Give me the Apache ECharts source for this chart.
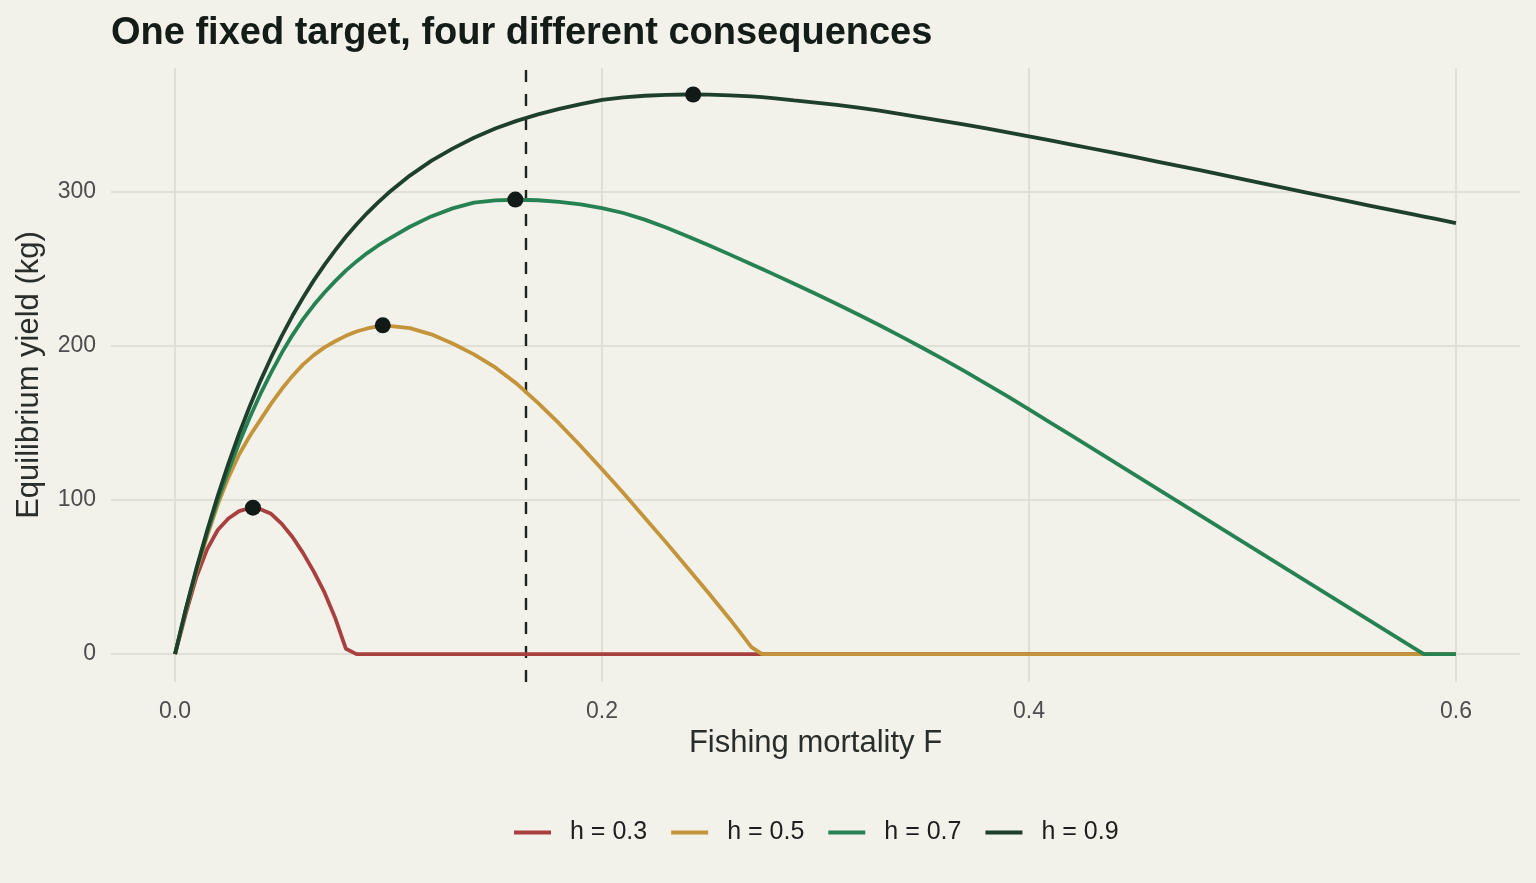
<!DOCTYPE html>
<html>
<head>
<meta charset="utf-8">
<script src="https://cdn.jsdelivr.net/npm/echarts@6/dist/echarts.min.js"></script>
<style>
  html, body { margin: 0; padding: 0; background: #F2F1EA; }
  #chart { width: 1536px; height: 883px; }
</style>
</head>
<body>
<div id="chart"></div>
<script>
// fishing mortality grid
const fishingF = [
  0, 0.005, 0.01, 0.015, 0.02, 0.025, 0.03, 0.035, 0.04, 0.045, 0.05,
  0.055, 0.06, 0.065, 0.07, 0.075, 0.08, 0.085, 0.09, 0.095, 0.1,
  0.11, 0.12, 0.13, 0.14, 0.15, 0.16, 0.17, 0.18, 0.19, 0.2,
  0.21, 0.22, 0.23, 0.24, 0.25, 0.26, 0.27, 0.275, 0.28, 0.29, 0.3,
  0.31, 0.32, 0.33, 0.34, 0.35, 0.36, 0.37, 0.38, 0.39, 0.4,
  0.41, 0.42, 0.43, 0.44, 0.45, 0.46, 0.47, 0.48, 0.49, 0.5,
  0.51, 0.52, 0.53, 0.54, 0.55, 0.56, 0.57, 0.58, 0.585, 0.59, 0.6
];

// equilibrium yield (kg) per steepness
const yieldH03 = [
  0, 26, 50, 68, 80.5, 88, 92.8, 94.8, 94, 91, 84.5,
  76, 65.5, 53.5, 40, 23.5, 3.5, 0, 0, 0, 0,
  0, 0, 0, 0, 0, 0, 0, 0, 0, 0,
  0, 0, 0, 0, 0, 0, 0, 0, 0, 0, 0,
  0, 0, 0, 0, 0, 0, 0, 0, 0, 0,
  0, 0, 0, 0, 0, 0, 0, 0, 0, 0,
  0, 0, 0, 0, 0, 0, 0, 0, 0, 0, 0
];
const yieldH05 = [
  0, 28, 53.5, 76.5, 97, 114.5, 129.5, 141.5, 152, 162.5, 172,
  180.5, 188, 194, 199, 203, 206.5, 209.3, 211.3, 212.6, 213,
  211.5, 207.5, 201.5, 194.5, 186, 175.5, 163, 149.5, 135, 120,
  104.5, 88.5, 72.5, 56, 39.5, 22.5, 4.5, 0, 0, 0, 0,
  0, 0, 0, 0, 0, 0, 0, 0, 0, 0,
  0, 0, 0, 0, 0, 0, 0, 0, 0, 0,
  0, 0, 0, 0, 0, 0, 0, 0, 0, 0, 0
];
const yieldH07 = [
  0, 28.8, 54.8, 78.5, 99.7, 119, 137, 153.5, 168.8, 182.7, 195.5,
  207, 217.4, 226.5, 234.6, 242, 248.8, 254.8, 260.2, 265, 269.3,
  277.3, 284, 289.2, 292.9, 294.4, 294.8, 294.5, 293.5, 291.8, 289.4,
  286.2, 281.9, 276.8, 271.2, 265.3, 259.2, 253, 249.9, 246.7, 240.3, 233.8,
  227.2, 220.4, 213.4, 206.2, 198.8, 191.2, 183.4, 175.4, 167.2, 158.8,
  150.2, 141.7, 133.2, 124.6, 116, 107.4, 98.8, 90.2, 81.6, 73,
  64.4, 55.8, 47.2, 38.6, 30, 21.4, 12.8, 4.2, 0, 0, 0
];
const yieldH09 = [
  0, 29, 55.5, 80, 102.7, 123.6, 143, 160.8, 177.3, 192.5, 206.5,
  219.5, 231.4, 242.5, 252.6, 262, 270.8, 278.8, 286.2, 293, 299.3,
  310.5, 320, 328, 335, 341, 346, 350.2, 353.8, 356.9, 359.6,
  361.2, 362.3, 362.9, 363.1, 363, 362.6, 361.9, 361.4, 360.8, 359.3, 357.9,
  356.4, 354.6, 352.6, 350.4, 348.1, 345.8, 343.5, 341.1, 338.6, 336,
  333.3, 330.6, 327.9, 325.2, 322.4, 319.6, 316.8, 314, 311.1, 308.2,
  305.3, 302.4, 299.5, 296.6, 293.7, 290.9, 288.1, 285.3, 283.9, 282.5, 279.7
];

// maximum of each curve
const peakF = [0.0365, 0.0973, 0.1594, 0.2427];
const peakY = [95, 213.3, 294.9, 363.1];

const targetF = 0.1645;

const seriesNames = ['h = 0.3', 'h = 0.5', 'h = 0.7', 'h = 0.9'];
const seriesColors = ['#A8403F', '#C4943A', '#268253', '#1F3F2D'];
const yieldSets = [yieldH03, yieldH05, yieldH07, yieldH09];

const xTicks = [0, 0.2, 0.4, 0.6];
const yTicks = [0, 100, 200, 300];

const FONT = '"Liberation Sans", Arial, Helvetica, sans-serif';
const gridColor = '#E0DFD6';

const chart = echarts.init(document.getElementById('chart'));

const curveSeries = yieldSets.map((ys, i) => ({
  name: seriesNames[i],
  type: 'line',
  data: fishingF.map((f, j) => [f, ys[j]]),
  symbol: 'none',
  smooth: false,
  z: 3,
  lineStyle: { width: 3.8, color: seriesColors[i] },
  itemStyle: { color: seriesColors[i] }
}));

const option = {
  backgroundColor: '#F2F1EA',
  animation: false,
  textStyle: { fontFamily: FONT },
  title: {
    text: 'One fixed target, four different consequences',
    left: 111,
    top: 15,
    padding: 0,
    textStyle: { fontFamily: FONT, fontSize: 38, fontWeight: 'bold', color: '#141C18' }
  },
  grid: { left: 111, right: 16, top: 68, bottom: 201 },
  xAxis: {
    type: 'value',
    min: -0.03,
    max: 0.63,
    name: 'Fishing mortality F',
    nameLocation: 'middle',
    nameGap: 46,
    nameTextStyle: { fontSize: 31, color: '#2A2E2B', fontFamily: FONT },
    axisLine: { show: false, onZero: false },
    axisTick: { show: false },
    splitLine: { show: false },
    axisLabel: {
      customValues: xTicks,
      formatter: v => v.toFixed(1),
      fontSize: 23,
      color: '#4D4D4D',
      margin: 18
    }
  },
  yAxis: {
    type: 'value',
    min: -18.1,
    max: 380.3,
    name: 'Equilibrium yield (kg)',
    nameLocation: 'middle',
    nameGap: 66,
    nameTextStyle: { fontSize: 31, color: '#2A2E2B', fontFamily: FONT },
    axisLine: { show: false, onZero: false },
    axisTick: { show: false },
    splitLine: { show: false },
    axisLabel: {
      customValues: yTicks,
      fontSize: 23,
      color: '#4D4D4D',
      margin: 15
    }
  },
  legend: {
    data: seriesNames,
    bottom: 38,
    left: 514,
    padding: 0,
    icon: 'rect',
    itemWidth: 37,
    itemHeight: 4,
    itemGap: 24,
    textStyle: { fontSize: 25, color: '#1E1E1E', padding: [0, 0, 0, 14] }
  },
  series: [
    {
      name: 'grid',
      type: 'line',
      data: [],
      silent: true,
      z: 1,
      markLine: {
        silent: true,
        symbol: 'none',
        precision: 4,
        z: 1,
        label: { show: false },
        lineStyle: { color: gridColor, width: 2, type: 'solid' },
        data: yTicks.map(v => ({ yAxis: v })).concat(xTicks.map(v => ({ xAxis: v })))
      }
    },
    ...curveSeries,
    {
      name: 'target',
      type: 'line',
      data: [],
      silent: true,
      z: 2,
      markLine: {
        silent: true,
        symbol: 'none',
        precision: 4,
        z: 2,
        label: { show: false },
        lineStyle: { color: '#1C2420', width: 2.4, type: [12, 12] },
        data: [{ xAxis: targetF }]
      }
    },
    {
      name: 'peaks',
      type: 'scatter',
      data: peakF.map((f, i) => [f, peakY[i]]),
      symbolSize: 16,
      z: 5,
      itemStyle: { color: '#111A16', opacity: 1 }
    }
  ]
};

chart.setOption(option);
</script>
</body>
</html>
